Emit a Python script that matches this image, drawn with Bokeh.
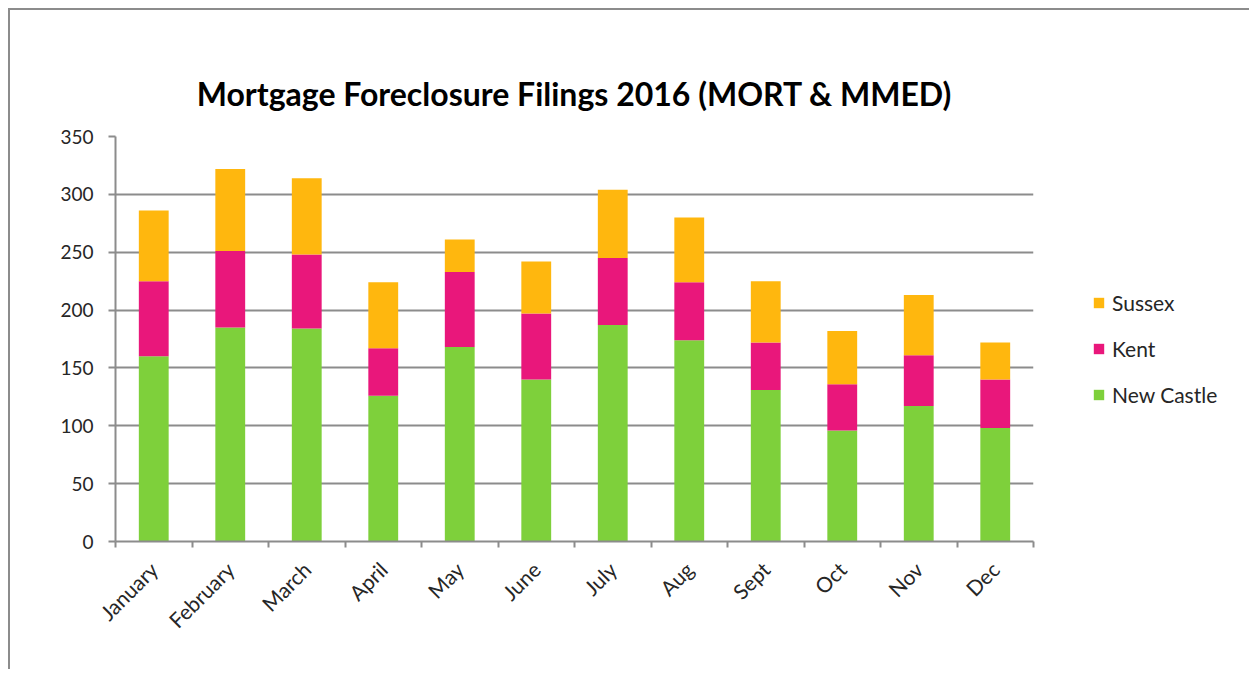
import math
from bokeh.plotting import figure
from bokeh.models import Legend, LegendItem, FixedTicker, ColumnDataSource, Range1d
from bokeh.embed import file_html
from bokeh.resources import INLINE

months = ["January", "February", "March", "April", "May", "June", "July",
          "Aug", "Sept", "Oct", "Nov", "Dec"]
new_castle = [160, 185, 184, 126, 168, 140, 187, 174, 131, 96, 117, 98]
kent = [65, 66, 64, 41, 65, 57, 58, 50, 41, 40, 44, 42]
sussex = [61, 71, 66, 57, 28, 45, 59, 56, 53, 46, 52, 32]
series = ["new_castle", "kent", "sussex"]
series_labels = ["New Castle", "Kent", "Sussex"]
colors = ["#7ED03B", "#E9177B", "#FFB70E"]
y_ticks = [0, 50, 100, 150, 200, 250, 300, 350]

FONT = "Lato"
GRID = "#8c8c8c"

xpos = [i + 0.5 for i in range(len(months))]
source = ColumnDataSource(dict(x=xpos, new_castle=new_castle, kent=kent, sussex=sussex))

p = figure(output_backend="svg", toolbar_location=None,
           x_range=Range1d(0, len(months)), y_range=Range1d(0, 350),
           frame_width=918, frame_height=405,
           min_border_left=105, min_border_top=126, min_border_right=210, min_border_bottom=128,
           title="Mortgage Foreclosure Filings 2016 (MORT & MMED)")
p.styles = {"margin-left": "8px", "margin-top": "8px",
            "border-top": "2px solid #8c8c8c", "border-left": "2px solid #8c8c8c"}

renderers = p.vbar_stack(series, x="x", width=0.39, source=source,
                         fill_color=colors, line_color=None)

p.title.text_font = FONT
p.title.text_font_size = "32px"
p.title.text_font_style = "bold"
p.title.text_color = "#000000"
p.title.align = "center"
p.title.standoff = 48

p.outline_line_color = None
p.xgrid.grid_line_color = None
p.ygrid.grid_line_color = GRID
p.ygrid.grid_line_width = 2
p.ygrid.ticker = FixedTicker(ticks=y_ticks)

p.yaxis.ticker = FixedTicker(ticks=y_ticks)
p.yaxis.axis_line_color = GRID
p.yaxis.axis_line_width = 2
p.yaxis.major_tick_line_color = GRID
p.yaxis.major_tick_line_width = 2
p.yaxis.major_tick_in = 0
p.yaxis.major_tick_out = 7
p.yaxis.minor_tick_line_color = None
p.yaxis.major_label_standoff = 15
p.yaxis.major_label_text_font = FONT
p.yaxis.major_label_text_font_size = "19px"
p.yaxis.major_label_text_color = "#262626"

p.xaxis.ticker = FixedTicker(ticks=xpos, minor_ticks=list(range(len(months) + 1)))
p.xaxis.major_label_overrides = {x: m for x, m in zip(xpos, months)}
p.xaxis.axis_line_color = GRID
p.xaxis.axis_line_width = 2
p.xaxis.major_tick_line_color = None
p.xaxis.minor_tick_line_color = GRID
p.xaxis.minor_tick_line_width = 2
p.xaxis.minor_tick_in = 0
p.xaxis.minor_tick_out = 6
p.xaxis.major_label_orientation = math.pi / 4
p.xaxis.major_label_standoff = 18
p.xaxis.major_label_text_font = FONT
p.xaxis.major_label_text_font_size = "21px"
p.xaxis.major_label_text_color = "#262626"

items = [LegendItem(label=lab, renderers=[r]) for lab, r in zip(series_labels, renderers)]
legend = Legend(items=items[::-1], location=(59, 134), orientation="vertical",
                glyph_width=13, glyph_height=13, label_height=20, spacing=21,
                label_standoff=7, label_text_font=FONT, label_text_font_size="21px",
                label_text_color="#262626", border_line_color=None,
                background_fill_alpha=0, padding=0, margin=0)
p.add_layout(legend, "right")

open("out.html", "w").write(file_html(p, INLINE))
